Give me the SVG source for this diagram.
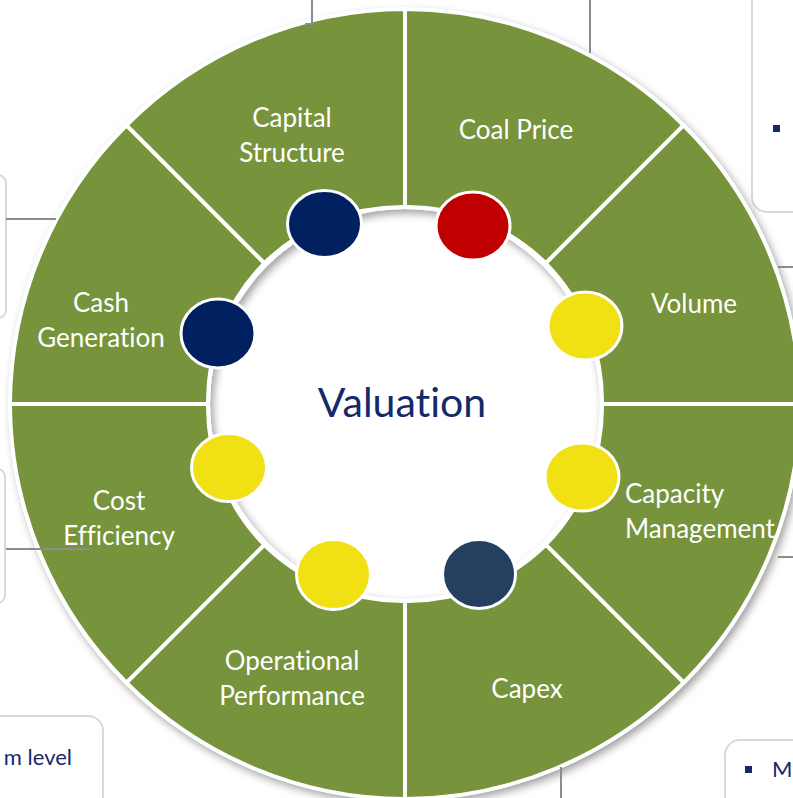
<svg xmlns="http://www.w3.org/2000/svg" width="793" height="798" viewBox="0 0 793 798">
  <defs>
    <filter id="ringShadow" x="-10%" y="-10%" width="120%" height="120%">
      <feGaussianBlur in="SourceAlpha" stdDeviation="4"/>
      <feOffset dx="3" dy="4" result="blur"/>
      <feFlood flood-color="#000" flood-opacity="0.38"/>
      <feComposite in2="blur" operator="in"/>
      <feMerge>
        <feMergeNode/>
        <feMergeNode in="SourceGraphic"/>
      </feMerge>
    </filter>
    <style>
      text { font-variant-ligatures: none; }
      .box { fill: #fff; stroke: #d9d9d9; stroke-width: 2; }
      .link { fill: none; stroke: #8c8c8c; stroke-width: 2; }
      .seg { fill: #77933c; stroke: #fff; stroke-width: 4; stroke-linejoin: miter; }
      .lbl { font-family: Lato, "Open Sans", sans-serif; font-size: 26px; fill: #fff; }
      .mid { text-anchor: middle; }
      .dot { stroke: #fff; stroke-width: 3; }
      .navy { fill: #002060; }
      .red { fill: #c00000; }
      .yellow { fill: #f0e014; }
      .slate { fill: #243f60; }
      .body { font-family: Lato, "Open Sans", sans-serif; font-size: 22px; fill: #13296b; }
      .bullet { fill: #13296b; }
    </style>
  </defs>

  <rect width="793" height="798" fill="#fff"/>

  <!-- surrounding callout boxes, partly hidden behind the wheel -->
  <g id="boxes">
    <rect class="box" x="752" y="-30" width="90" height="242" rx="15"/>
    <rect class="bullet" x="773" y="125" width="7" height="7"/>
    <rect class="box" x="-50" y="175" width="56" height="143" rx="8"/>
    <rect class="box" x="-50" y="469" width="55" height="134" rx="8"/>
    <rect class="box" x="-60" y="716" width="163" height="120" rx="15"/>
    <text class="body" x="72" y="765" text-anchor="end">m level</text>
    <rect class="box" x="725" y="740" width="100" height="100" rx="15"/>
    <rect class="bullet" x="745" y="766" width="7" height="7"/>
    <text class="body" x="772" y="777" font-size="20">M</text>
  </g>

  <!-- white rim of the wheel, carrying the soft shadow -->
  <path id="rim" filter="url(#ringShadow)" fill="#fff" fill-rule="evenodd"
        d="M 405 8 A 396 396 0 1 1 405 800 A 396 396 0 1 1 405 8 Z
           M 405 209 A 195 195 0 1 0 405 599 A 195 195 0 1 0 405 209 Z"/>

  <g id="capital-structure">
    <path class="seg" d="M 126.4 125.4 A 395 395 0 0 1 405 9 L 405 207 A 197 197 0 0 0 264.3 263.3 Z"/>
    <text class="lbl mid" x="292" y="127">Capital</text>
    <text class="lbl mid" x="292" y="162">Structure</text>
  </g>
  <g id="coal-price">
    <path class="seg" d="M 405 9 A 395 395 0 0 1 683.6 125.4 L 545.7 263.3 A 197 197 0 0 0 405 207 Z"/>
    <text class="lbl mid" x="516" y="139">Coal Price</text>
  </g>
  <g id="volume">
    <path class="seg" d="M 683.6 125.4 A 395 395 0 0 1 800 404 L 602 404 A 197 197 0 0 0 545.7 263.3 Z"/>
    <text class="lbl mid" x="694" y="313">Volume</text>
  </g>
  <g id="capacity-management">
    <path class="seg" d="M 800 404 A 395 395 0 0 1 683.6 682.6 L 545.7 544.7 A 197 197 0 0 0 602 404 Z"/>
    <text class="lbl" x="625" y="503">Capacity</text>
    <text class="lbl" x="625" y="538">Management</text>
  </g>
  <g id="capex">
    <path class="seg" d="M 683.6 682.6 A 395 395 0 0 1 405 799 L 405 601 A 197 197 0 0 0 545.7 544.7 Z"/>
    <text class="lbl mid" x="527" y="698">Capex</text>
  </g>
  <g id="operational-performance">
    <path class="seg" d="M 405 799 A 395 395 0 0 1 126.4 682.6 L 264.3 544.7 A 197 197 0 0 0 405 601 Z"/>
    <text class="lbl mid" x="292" y="670">Operational</text>
    <text class="lbl mid" x="292" y="705">Performance</text>
  </g>
  <g id="cost-efficiency">
    <path class="seg" d="M 126.4 682.6 A 395 395 0 0 1 10 404 L 208 404 A 197 197 0 0 0 264.3 544.7 Z"/>
    <text class="lbl mid" x="119" y="510">Cost</text>
    <text class="lbl mid" x="119" y="545">Efficiency</text>
  </g>
  <g id="cash-generation">
    <path class="seg" d="M 10 404 A 395 395 0 0 1 126.4 125.4 L 264.3 263.3 A 197 197 0 0 0 208 404 Z"/>
    <text class="lbl mid" x="101" y="312">Cash</text>
    <text class="lbl mid" x="101" y="347">Generation</text>
  </g>

  <g id="valuation">
    <text x="402" y="417" text-anchor="middle" font-family="Lato, 'Open Sans', sans-serif" font-size="41" fill="#13296b">Valuation</text>
  </g>

  <!-- status markers on the inner edge -->
  <g id="markers">
    <ellipse class="dot navy" cx="324.5" cy="224" rx="37" ry="33.5"/>
    <ellipse class="dot red" cx="473" cy="226" rx="37" ry="34"/>
    <ellipse class="dot yellow" cx="585" cy="326" rx="37" ry="34"/>
    <ellipse class="dot yellow" cx="582" cy="477" rx="37" ry="34"/>
    <ellipse class="dot slate" cx="479" cy="574" rx="36.5" ry="34.5"/>
    <ellipse class="dot yellow" cx="333.5" cy="574.5" rx="37" ry="35"/>
    <ellipse class="dot yellow" cx="229" cy="467.5" rx="37.5" ry="34"/>
    <ellipse class="dot navy" cx="218" cy="333.5" rx="37" ry="34.5"/>
  </g>

  <g id="connectors">
    <polyline class="link" points="312,0 312,24 305,24"/>
    <line class="link" x1="590" y1="0" x2="590" y2="53"/>
    <line class="link" x1="6" y1="219" x2="56" y2="219"/>
    <line class="link" x1="6" y1="549" x2="90" y2="549"/>
    <line class="link" x1="778" y1="267" x2="793" y2="267"/>
    <line class="link" x1="778" y1="557" x2="793" y2="557"/>
    <line class="link" x1="561" y1="767" x2="561" y2="798"/>
  </g>
</svg>
